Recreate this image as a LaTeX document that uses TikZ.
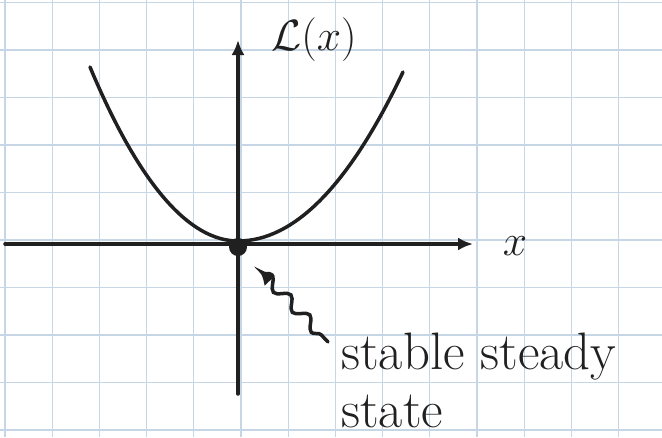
\documentclass[tikz,border=0pt]{standalone}
\usepackage{amsmath}
\usetikzlibrary{arrows.meta,decorations.pathmorphing}
\definecolor{gridblue}{RGB}{198,214,228}
\definecolor{pen}{RGB}{32,32,32}

\begin{document}
\begin{tikzpicture}[
  x=0.02cm,y=-0.02cm,
  font=\fontsize{30}{33}\selectfont,
  gridline/.style={draw=gridblue,line width=0.6pt},
  ink/.style={draw=pen,line width=2pt,line cap=round},
  axis/.style={ink,-{Latex[length=3mm,width=2.6mm]}},
  wavy/.style={ink,-{Latex[length=3.2mm,width=3mm]},decorate,
    decoration={snake,amplitude=1.1mm,segment length=5.5mm,pre length=2mm,post length=5mm}},
  lbl/.style={text=pen,inner sep=0pt},
  dot/.style={circle,fill=pen,inner sep=0pt,minimum size=0.36cm}
]
\useasboundingbox (0,0) rectangle (662,437);
% squared paper
\foreach \k in {0,...,13} \draw[gridline] (5+47.2*\k,0) -- (5+47.2*\k,437);
\foreach \k in {0,...,9} \draw[gridline] (0,2.5+47.5*\k) -- (662,2.5+47.5*\k);

\coordinate (xl) at (5,244);
\coordinate (xr) at (473,244);
\coordinate (yb) at (238,394);
\coordinate (yt) at (238,40);
\coordinate (tail) at (328,342);

\draw[axis] (xl) -- (xr);
\draw[axis] (yb) -- (yt);
\draw[ink] (90,67) .. controls (139,184) and (189,241) .. (238,241)
  .. controls (294,241) and (349,186) .. (403,72);

\node[dot] (ss) at (238,247) {};
\node[lbl] (ylab) at (314,40) {$\mathcal{L}(x)$};
\node[lbl,font=\fontsize{40}{40}\selectfont] (xlab) at (515,246) {$x$};
\node[lbl,anchor=north west,align=left] (sslab) at (341,333) {stable steady\\state};

\draw[wavy,shorten >=0.42cm] (tail) -- (ss);
\end{tikzpicture}
\end{document}
